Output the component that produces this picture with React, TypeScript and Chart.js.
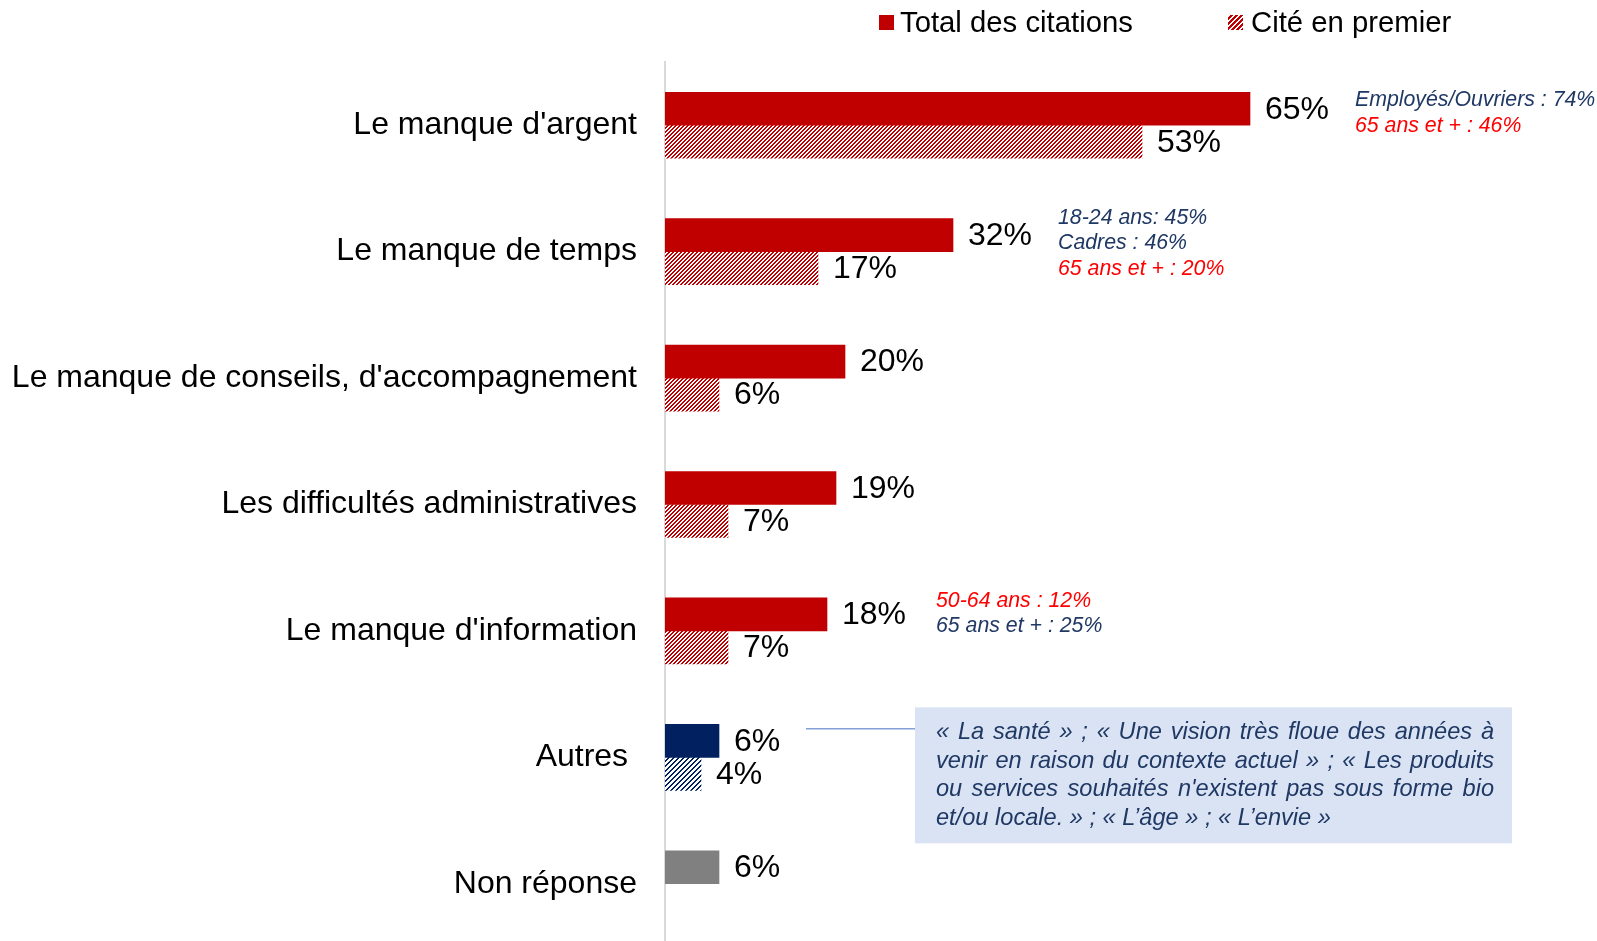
import { useEffect, useRef } from 'react';
import { Chart, registerables } from 'chart.js';

Chart.register(...registerables);

// ---------- data ----------
const categories = [
  "Le manque d'argent",
  'Le manque de temps',
  "Le manque de conseils, d'accompagnement",
  'Les difficultés administratives',
  "Le manque d'information",
  'Autres ',
  'Non réponse',
];
const totalCitations: (number | null)[] = [65, 32, 20, 19, 18, 6, 6];
const citeEnPremier: (number | null)[] = [53, 17, 6, 7, 7, 4, null];
const seriesNames = ['Total des citations', 'Cité en premier'];
const valueSuffix = '%';

const noteCategories = [0, 1, 4];
const noteTexts = [
  ['Employés/Ouvriers : 74%', '65 ans et + : 46%'],
  ['18-24 ans: 45%', 'Cadres : 46%', '65 ans et + : 20%'],
  ['50-64 ans : 12%', '65 ans et + : 25%'],
];
const noteKinds = [
  ['navy', 'red'],
  ['navy', 'navy', 'red'],
  ['red', 'navy'],
];
const quoteLines = [
  '« La santé » ; « Une vision très floue des années à',
  'venir en raison du contexte actuel » ; « Les produits',
  "ou services souhaités n'existent pas sous forme bio",
  'et/ou locale. » ; « L’âge » ; « L’envie »',
];

// ---------- styles ----------
const FONT = '"Liberation Sans", Arial, Helvetica, sans-serif';
const RED = '#C00000';
const NAVY = '#002060';
const GREY = '#808080';
const NOTE_NAVY = '#1F3864';
const NOTE_RED = '#FF0000';

function makeHatch(color: string, period: number, stroke: number) {
  const c = document.createElement('canvas');
  c.width = period;
  c.height = period;
  const ctx = c.getContext('2d')!;
  ctx.fillStyle = '#ffffff';
  ctx.fillRect(0, 0, period, period);
  ctx.fillStyle = color;
  for (let y = 0; y < period; y++) {
    for (let x = 0; x < period; x++) {
      if ((x + y) % period < stroke) ctx.fillRect(x, y, 1, 1);
    }
  }
  const main = document.createElement('canvas').getContext('2d')!;
  return main.createPattern(c, 'repeat') as CanvasPattern;
}

export default function App() {
  const ref = useRef<HTMLCanvasElement>(null);

  useEffect(() => {
    const canvas = ref.current!;
    const redHatch = makeHatch(RED, 4, 2);
    const navyHatch = makeHatch(NAVY, 5, 2);
    const legendHatch = makeHatch(RED, 5, 3);

    const totalColors = categories.map((_, i) => (i === 5 ? NAVY : i === 6 ? GREY : RED));
    const firstColors = categories.map((_, i) => (i === 5 ? navyHatch : redHatch));

    const labelPlugin = {
      id: 'valueLabels',
      afterDatasetsDraw(chart: any) {
        const ctx = chart.ctx;
        ctx.save();
        ctx.font = `32px ${FONT}`;
        ctx.fillStyle = '#000';
        ctx.textBaseline = 'middle';
        ctx.textAlign = 'left';
        chart.data.datasets.forEach((ds: any, di: number) => {
          const meta = chart.getDatasetMeta(di);
          meta.data.forEach((el: any, i: number) => {
            const v = ds.data[i];
            if (v === null || v === undefined) return;
            ctx.fillText(`${v}${valueSuffix}`, el.x + 15, el.y + 1);
          });
        });
        ctx.restore();
      },
    };

    const decorPlugin = {
      id: 'decor',
      afterDraw(chart: any) {
        const ctx = chart.ctx;
        const yScale = chart.scales.y;
        ctx.save();

        // legend
        ctx.font = `29.3px ${FONT}`;
        ctx.textBaseline = 'middle';
        ctx.textAlign = 'left';
        ctx.fillStyle = RED;
        ctx.fillRect(879, 15, 15, 15);
        ctx.fillStyle = '#000';
        ctx.fillText(seriesNames[0], 900, 24);
        ctx.fillStyle = legendHatch;
        ctx.fillRect(1228, 15, 15, 15);
        ctx.fillStyle = '#000';
        ctx.fillText(seriesNames[1], 1251, 24);

        // side notes
        const noteX = [1355, 1058, 936];
        const noteY0 = [-25, -34, -30];
        ctx.font = `italic 21.3px ${FONT}`;
        noteCategories.forEach((ci, k) => {
          const cy = yScale.getPixelForValue(ci);
          noteTexts[k].forEach((t, j) => {
            ctx.fillStyle = noteKinds[k][j] === 'red' ? NOTE_RED : NOTE_NAVY;
            ctx.fillText(t, noteX[k], cy + noteY0[k] + j * 25.5);
          });
        });

        // quote box for "Autres"
        const autresY = yScale.getPixelForValue(5);
        const boxTop = autresY - 50;
        ctx.fillStyle = '#DAE3F3';
        ctx.fillRect(915, boxTop, 597, 136);
        ctx.strokeStyle = '#4472C4';
        ctx.lineWidth = 1;
        ctx.beginPath();
        ctx.moveTo(806, boxTop + 21.5);
        ctx.lineTo(915, boxTop + 21.5);
        ctx.stroke();

        ctx.font = `italic 23.6px ${FONT}`;
        ctx.fillStyle = NOTE_NAVY;
        const left = 936;
        const right = 1494;
        quoteLines.forEach((line, j) => {
          const y = boxTop + 25.5 + j * 28.5;
          if (j === quoteLines.length - 1) {
            ctx.fillText(line, left, y);
            return;
          }
          const words = line.split(' ');
          const widths = words.map((w) => ctx.measureText(w).width);
          const sum = widths.reduce((a, b) => a + b, 0);
          const gap = (right - left - sum) / (words.length - 1);
          let x = left;
          words.forEach((w, wi) => {
            ctx.fillText(w, x, y);
            x += widths[wi] + gap;
          });
        });

        ctx.restore();
      },
    };

    const chart = new Chart(canvas, {
      type: 'bar',
      data: {
        labels: categories,
        datasets: [
          {
            label: seriesNames[0],
            data: totalCitations,
            backgroundColor: totalColors,
            borderWidth: 0,
            barThickness: 33,
          },
          {
            label: seriesNames[1],
            data: citeEnPremier,
            backgroundColor: firstColors as any,
            borderWidth: 0,
            barThickness: 33,
          },
        ],
      },
      options: {
        indexAxis: 'y',
        responsive: false,
        animation: false,
        layout: { padding: { top: 62, right: 32, bottom: 50, left: 0 } },
        plugins: {
          legend: { display: false },
          tooltip: { enabled: false },
        },
        scales: {
          x: {
            display: false,
            min: 0,
            max: 100,
          },
          y: {
            afterFit(scale: any) {
              scale.width = 665;
            },
            grid: { display: false, drawTicks: false },
            border: { display: true, color: '#D9D9D9', width: 2 },
            ticks: {
              padding: 28,
              color: '#000',
              font: { family: FONT, size: 32 },
            },
          },
        },
      },
      plugins: [labelPlugin, decorPlugin],
    });

    return () => chart.destroy();
  }, []);

  return (
    <div
      style={{
        position: 'absolute',
        left: 0,
        top: 0,
        width: 1597,
        height: 941,
        overflow: 'hidden',
        background: '#fff',
      }}
    >
      <canvas ref={ref} width={1597} height={997} style={{ display: 'block' }} />
    </div>
  );
}
